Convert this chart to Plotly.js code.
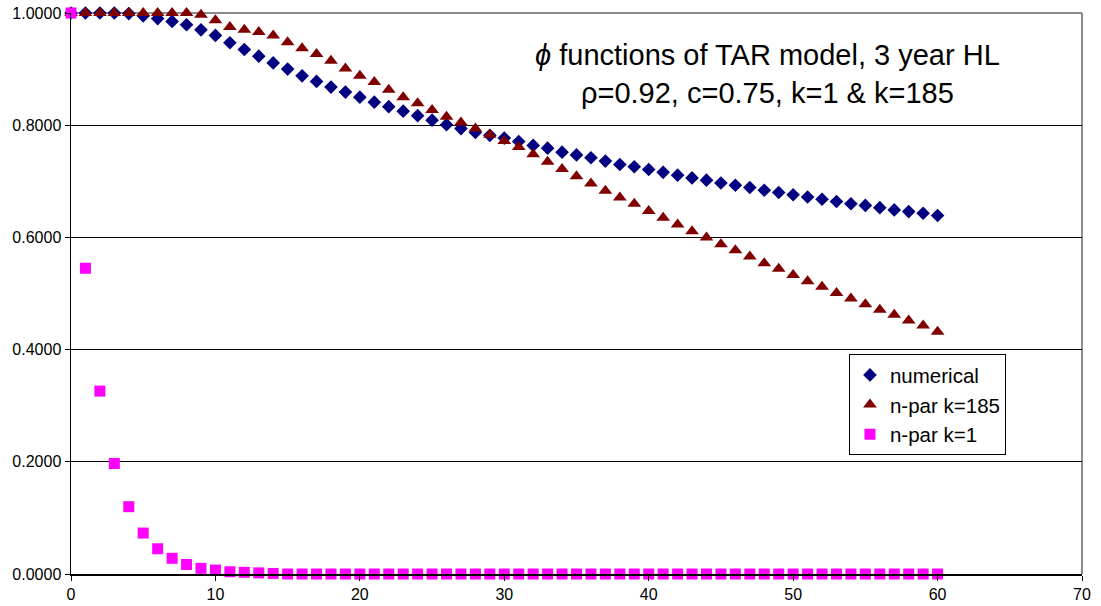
<!DOCTYPE html>
<html>
<head>
<meta charset="utf-8">
<script src="https://cdn.plot.ly/plotly-3.0.1.min.js"></script>
<style>html,body{margin:0;padding:0;background:#fff;}#chart{width:1101px;height:606px;}</style>
</head>
<body>
<div id="chart"></div>
<script>
// x values (periods)
const periods = [0,1,2,3,4,5,6,7,8,9,10,11,12,13,14,15,16,17,18,19,20,21,22,23,24,25,26,27,28,29,30,31,32,33,34,35,36,37,38,39,40,41,42,43,44,45,46,47,48,49,50,51,52,53,54,55,56,57,58,59,60];

// numerical
const numerical = [1.000,1.000,1.000,1.000,0.999,0.995,0.990,0.985,0.979,0.970,
  0.960,0.947,0.935,0.923,0.911,0.900,0.888,0.878,0.868,0.859,
  0.850,0.841,0.833,0.825,0.817,0.809,0.801,0.794,0.787,0.782,
  0.777,0.771,0.764,0.759,0.752,0.747,0.742,0.736,0.730,0.726,
  0.721,0.716,0.711,0.706,0.702,0.697,0.693,0.689,0.684,0.680,
  0.676,0.672,0.668,0.664,0.660,0.657,0.653,0.649,0.646,0.643,
  0.639];

// n-par k=185
const nparK185 = [1.000,1.000,1.000,1.000,1.000,1.000,1.000,1.000,1.000,0.997,
  0.987,0.975,0.970,0.966,0.960,0.948,0.937,0.927,0.915,0.901,
  0.888,0.877,0.863,0.850,0.839,0.827,0.815,0.805,0.794,0.783,
  0.772,0.761,0.748,0.735,0.722,0.709,0.696,0.683,0.671,0.660,
  0.647,0.635,0.623,0.611,0.600,0.588,0.577,0.566,0.554,0.544,
  0.533,0.522,0.512,0.501,0.491,0.481,0.471,0.462,0.452,0.443,
  0.432];

// n-par k=1
const nparK1 = [1.000,0.545,0.326,0.197,0.120,0.073,0.045,0.028,0.017,0.010,
  0.007,0.004,0.003,0.002,0.001,0,0,0,0,0,
  0,0,0,0,0,0,0,0,0,0,
  0,0,0,0,0,0,0,0,0,0,
  0,0,0,0,0,0,0,0,0,0,
  0,0,0,0,0,0,0,0,0,0,
  0];

const seriesNames = ['numerical', 'n-par k=185', 'n-par k=1'];
const titleText = '<i>ϕ</i> functions of TAR model, 3 year HL<br>ρ=0.92, c=0.75, k=1 &amp; k=185';
const xTicks = [0,10,20,30,40,50,60,70];
const yTicks = [0,0.2,0.4,0.6,0.8,1.0];

const FONT = 'Liberation Sans, Arial, sans-serif';

const traces = [
  {x: periods, y: numerical, name: seriesNames[0], type: 'scatter', mode: 'markers', cliponaxis: false,
   marker: {symbol: 'diamond', size: 10.5, color: '#000080'}},
  {x: periods, y: nparK185, name: seriesNames[1], type: 'scatter', mode: 'markers', cliponaxis: false,
   marker: {symbol: 'triangle-up', size: 12, color: '#800000'}},
  {x: periods, y: nparK1, name: seriesNames[2], type: 'scatter', mode: 'markers', cliponaxis: false,
   marker: {symbol: 'square', size: 11, color: '#FF00FF'}}
];

const layout = {
  width: 1101, height: 606,
  margin: {l: 71, r: 19, t: 13, b: 32},
  paper_bgcolor: '#fff', plot_bgcolor: '#fff',
  font: {family: FONT, size: 16, color: '#000'},
  showlegend: true,
  title: {text: titleText, font: {family: FONT, size: 29, color: '#000'},
          x: 0.697, xanchor: 'center', xref: 'container',
          y: 1 - 65/606, yanchor: 'top', yref: 'container'},
  xaxis: {range: [0, 70], tickvals: xTicks, ticks: 'outside', ticklen: 5, tickcolor: '#000',
          showgrid: false, zeroline: false, showline: true, linecolor: '#000', linewidth: 1.5,
          tickfont: {family: FONT, size: 16, color: '#000'}},
  yaxis: {range: [0, 1], tickvals: yTicks, tickformat: '.4f', ticks: 'outside', ticklen: 5, tickcolor: '#000',
          showgrid: true, gridcolor: '#000', gridwidth: 1, zeroline: false,
          showline: true, linecolor: '#000', linewidth: 1.5,
          tickfont: {family: FONT, size: 16, color: '#000'}},
  legend: {x: 0.7695, y: 0.392, xanchor: 'left', yanchor: 'top',
           bgcolor: '#fff', bordercolor: '#000', borderwidth: 1,
           font: {family: FONT, size: 20.5, color: '#000'}, itemwidth: 30},
  shapes: [
    {type: 'line', xref: 'paper', yref: 'paper', x0: 0, x1: 1, y0: 1, y1: 1,
     line: {color: '#8c8c8c', width: 2}, layer: 'between'},
    {type: 'line', xref: 'paper', yref: 'paper', x0: 1, x1: 1, y0: 0, y1: 1,
     line: {color: '#8c8c8c', width: 2}, layer: 'between'}
  ]
};

Plotly.newPlot('chart', traces, layout, {displayModeBar: false, staticPlot: true});
</script>
</body>
</html>
